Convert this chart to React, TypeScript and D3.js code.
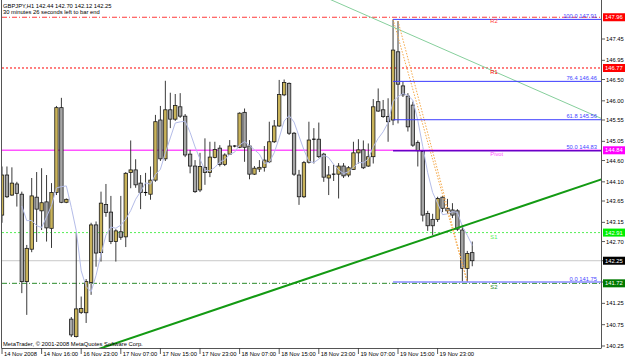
import React from "react";
import * as d3 from "d3";

// ---------- data ----------
const symbolHeader = "GBPJPY,H1  142.44 142.70 142.12 142.25";
const timerText = "30 minutes 26 seconds left to bar end";
const copyright = "MetaTrader, © 2001-2008 MetaQuotes Software Corp.";

const opens = [
  143.32, 144.26, 143.79, 144.05, 143.81, 141.76, 142.52, 143.74, 143.42, 143.63,
  143.01, 143.85, 145.84, 143.62, 140.88, 140.47, 141.04, 141.03, 141.74, 143.09,
  142.44, 143.57, 143.39, 142.70, 142.93, 142.81, 144.32, 144.38, 144.07, 143.85,
  143.81, 144.14, 145.55, 144.64, 145.79, 145.57, 145.86, 145.64, 144.75, 144.47,
  143.91, 144.44, 144.32, 144.67, 144.89, 144.51, 144.75, 144.93, 144.91, 145.73,
  144.94, 144.28, 144.40, 144.44, 144.57, 145.04, 145.41, 146.14, 146.41, 145.24,
  144.26, 143.75, 144.56, 145.09, 145.10, 144.75, 144.19, 144.27, 144.28, 144.47,
  144.26, 144.39, 144.78, 144.85, 144.47, 144.69, 145.98, 145.79, 145.63, 145.55,
  147.15, 146.35, 146.11, 145.90, 145.02, 144.81, 143.36, 143.22, 143.22, 143.74,
  143.48, 143.44, 143.42, 142.97, 142.07, 142.44,
];
const highs = [
  144.46, 144.46, 144.44, 144.10, 143.87, 142.62, 144.19, 144.33, 144.42, 144.26,
  144.07, 145.88, 146.07, 143.71, 140.93, 142.90, 141.41, 141.82, 143.14, 143.17,
  143.87, 144.05, 143.77, 142.99, 143.77, 144.33, 145.07, 144.63, 144.26, 144.31,
  144.46, 145.67, 145.88, 146.47, 146.19, 146.16, 146.18, 145.69, 144.85, 144.61,
  144.78, 145.12, 145.04, 145.04, 144.96, 144.77, 145.08, 144.96, 145.73, 145.82,
  145.08, 144.47, 144.61, 144.94, 145.51, 145.55, 146.49, 146.50, 146.43, 145.27,
  144.38, 144.59, 145.51, 145.36, 145.49, 144.78, 144.47, 144.50, 144.54, 144.54,
  144.47, 145.04, 145.10, 145.07, 145.00, 146.04, 146.29, 146.02, 146.06, 147.91,
  147.87, 146.45, 146.18, 145.98, 145.07, 144.85, 143.42, 143.35, 143.75, 143.77,
  143.70, 143.60, 143.46, 143.09, 142.48, 142.70,
];
const lows = [
  143.14, 143.72, 143.77, 143.52, 141.49, 140.98, 142.45, 142.69, 142.97, 142.70,
  142.55, 143.79, 143.60, 143.60, 140.46, 140.45, 141.00, 140.79, 141.45, 142.11,
  142.23, 143.28, 142.64, 142.23, 142.74, 142.57, 143.95, 143.96, 143.46, 143.77,
  143.68, 144.10, 144.59, 144.59, 145.36, 145.53, 145.60, 144.68, 144.30, 143.84,
  143.86, 144.03, 144.21, 144.65, 144.46, 144.47, 144.73, 144.91, 144.89, 144.57,
  144.16, 144.26, 144.33, 144.34, 144.54, 145.01, 145.39, 146.11, 145.20, 144.24,
  143.56, 143.72, 144.53, 144.53, 144.66, 144.10, 143.79, 144.12, 143.71, 144.19,
  144.21, 144.38, 144.53, 144.40, 144.45, 144.53, 145.74, 145.60, 145.04, 145.43,
  145.47, 146.09, 145.28, 144.92, 144.46, 143.17, 142.95, 142.85, 143.16, 143.39,
  143.35, 143.25, 142.95, 141.76, 141.75, 142.12,
];
const closes = [
  144.26, 143.75, 144.07, 143.83, 141.76, 142.54, 143.77, 143.46, 143.61, 143.02,
  143.85, 145.84, 143.62, 143.69, 140.51, 141.12, 141.13, 141.76, 143.09, 142.43,
  143.60, 143.38, 142.70, 142.95, 142.80, 144.30, 144.38, 144.03, 143.85, 143.83,
  144.14, 145.51, 144.64, 145.79, 145.57, 145.89, 145.64, 144.73, 144.47, 143.87,
  144.46, 144.32, 144.68, 144.86, 144.51, 144.73, 144.94, 144.94, 145.71, 144.91,
  144.28, 144.42, 144.44, 144.61, 145.04, 145.41, 146.15, 146.43, 145.24, 144.28,
  143.75, 144.55, 145.08, 145.10, 144.69, 144.21, 144.26, 144.28, 144.47, 144.24,
  144.43, 144.78, 144.85, 144.43, 144.69, 145.86, 145.76, 145.63, 145.51, 147.19,
  146.39, 146.14, 145.39, 144.96, 144.83, 143.32, 143.07, 143.07, 143.71, 143.48,
  143.42, 143.32, 142.99, 142.07, 142.42, 142.25,
];

const timeTickBars = [0, 8, 16, 24, 32, 40, 48, 56, 64, 72, 80, 88];
const timeTickLabels = [
  "14 Nov 2008", "14 Nov 16:00", "16 Nov 23:00", "17 Nov 07:00", "17 Nov 15:00",
  "17 Nov 23:00", "18 Nov 07:00", "18 Nov 15:00", "18 Nov 23:00", "19 Nov 07:00",
  "19 Nov 15:00", "19 Nov 23:00",
];
const priceTicks = [
  147.45, 146.95, 146.5, 146.0, 145.55, 145.05, 144.6, 144.1, 143.65, 143.15,
  142.7, 142.25, 141.75, 141.25, 140.75, 140.25,
];

const pivotNames = ["R2", "R1", "Pivot", "S1", "S2"];
const pivotPrices = [147.96, 146.77, 144.84, 142.91, 141.72];
const pivotColors = ["#ff3a3a", "#ff0000", "#ff55ff", "#55ee55", "#2a8a2a"];
const pivotBoxColors = ["#ff0000", "#ff0000", "#ff00ff", "#00ee00", "#007a00"];
const pivotDash = ["5 2 1 2", "2 2", "", "2 2", "5 2 1 2"];

const currentPrice = 142.25;

const fibRatios = [1, 0.764, 0.618, 0.5, 0];
const fibLabels = ["100.0", "76.4", "61.8", "50.0", "0.0"];
const fibHigh = 147.91;
const fibLow = 141.75;
const fibStartBar = 79;
const fibEndBar = 94;

// trendlines: [bar, price] anchors
const greenTrend = [[30, 140.59], [90, 142.94]];
const lightTrend = [[74.3, 147.97], [100.6, 146.63]];
const orangeA = [[79, 147.91], [94, 141.75]];
const orangeB = [[80, 147.87], [94, 141.75]];

const maPeriod = 5;

// ---------- layout ----------
const W = 625;
const H = 361;
const plotL = 2;
const plotR = 601;
const plotT = 0;
const plotB = 348;
const FONT = "'Liberation Sans', Arial, sans-serif";
const FS = 5.8;

export default function App() {
  const n = closes.length;
  const x = d3.scaleLinear().domain([0, n - 1]).range([2, 2 + 4.95 * (n - 1)]);
  const y = d3.scaleLinear().domain([140.25, 147.45]).range([346, 39]);

  const bull = "#c9b35a";
  const bear = "#a6a6a6";

  const extLine = (pts: number[][]) => {
    const [a, b] = pts;
    const x1 = x(a[0]), y1 = y(a[1]), x2 = x(b[0]), y2 = y(b[1]);
    const m = (y2 - y1) / (x2 - x1);
    const xa = plotL - 5, xb = plotR + 5;
    return { x1: xa, y1: y1 + m * (xa - x1), x2: xb, y2: y1 + m * (xb - x1) };
  };

  const maPts: [number, number][] = [];
  for (let i = maPeriod - 1; i < n; i++) {
    const m = d3.mean(closes.slice(i - maPeriod + 1, i + 1)) as number;
    maPts.push([x(i), y(m)]);
  }
  const maPath = d3.line().curve(d3.curveLinear)(maPts) || "";

  const g = extLine(greenTrend);
  const lt = extLine(lightTrend);

  return (
    <svg
      width={W}
      height={H}
      viewBox={`0 0 ${W} ${H}`}
      style={{ position: "fixed", left: 0, top: 0, background: "#fff", display: "block" }}
      fontFamily={FONT}
    >
      <defs>
        <clipPath id="plotclip">
          <rect x={plotL} y={plotT} width={plotR - plotL} height={plotB - plotT} />
        </clipPath>
      </defs>
      <rect x={0} y={0} width={W} height={H} fill="#fff" />

      <g clipPath="url(#plotclip)">
        {/* pivot levels */}
        {pivotPrices.map((p, i) => (
          <line
            key={"pv" + i}
            x1={plotL}
            x2={plotR}
            y1={y(p)}
            y2={y(p)}
            stroke={pivotColors[i]}
            strokeWidth={i === 2 ? 1.6 : 1}
            strokeDasharray={pivotDash[i] || undefined}
          />
        ))}
        {/* current price line */}
        <line x1={plotL} x2={plotR} y1={y(currentPrice)} y2={y(currentPrice)} stroke="#c8c8c8" strokeWidth={1} />

        {/* candles */}
        {closes.map((c, i) => {
          const o = opens[i];
          const cx = x(i);
          const up = c >= o;
          const top = y(Math.max(o, c));
          const bot = y(Math.min(o, c));
          const doji = Math.abs(bot - top) < 1;
          return (
            <g key={"c" + i}>
              <line x1={cx} x2={cx} y1={y(highs[i])} y2={y(lows[i])} stroke="#3a3a3a" strokeWidth={1} />
              {doji ? (
                <line x1={cx - 1.8} x2={cx + 1.8} y1={top} y2={top} stroke="#000" strokeWidth={1.1} />
              ) : (
                <rect
                  x={cx - 1.7}
                  y={top}
                  width={3.4}
                  height={bot - top}
                  fill={up ? bull : bear}
                  stroke="#1a1a1a"
                  strokeWidth={0.8}
                />
              )}
            </g>
          );
        })}

        {/* moving average */}
        <path d={maPath} fill="none" stroke="#b4bce8" strokeWidth={1} />

        {/* trend lines */}
        <line {...lt} stroke="#86cf9c" strokeWidth={1} />
        <line {...g} stroke="#139a13" strokeWidth={2} />
        {[orangeA, orangeB].map((pts, k) => (
          <line
            key={"or" + k}
            x1={x(pts[0][0])}
            y1={y(pts[0][1])}
            x2={x(pts[1][0])}
            y2={y(pts[1][1])}
            stroke="#f5a94a"
            strokeWidth={1}
            strokeDasharray="1.5 1.5"
          />
        ))}

        {/* fibonacci */}
        {fibRatios.map((r, i) => {
          const p = fibLow + r * (fibHigh - fibLow);
          const yy = y(p);
          const col = r === 0.5 ? "#6a00c8" : r === 0 ? "#8a8cff" : "#3b3bff";
          return (
            <g key={"fb" + i}>
              <line
                x1={x(fibStartBar)}
                x2={plotR}
                y1={yy}
                y2={yy}
                stroke={col}
                strokeWidth={r === 0.5 || r === 0 ? 1.6 : 1}
              />
              <text x={597} y={yy - 1.3} fontSize={FS} fill="#4646ff" textAnchor="end">
                {fibLabels[i] + "  " + p.toFixed(2)}
              </text>
            </g>
          );
        })}

        {/* pivot labels */}
        {pivotPrices.map((p, i) => (
          <text key={"pl" + i} x={x(fibEndBar) + 23} y={y(p) + 6} fontSize={FS} fill={pivotColors[i]}>
            {pivotNames[i]}
          </text>
        ))}

        {/* header */}
        <text x={3} y={7.5} fontSize={FS} fill="#000">{symbolHeader}</text>
        <text x={3} y={13.5} fontSize={FS} fill="#000">{timerText}</text>
        <text x={3} y={346} fontSize={FS} fill="#000">{copyright}</text>
      </g>

      {/* frame */}
      <line x1={1.5} x2={1.5} y1={0} y2={plotB} stroke="#555" strokeWidth={1} />
      <line x1={plotR + 0.5} x2={plotR + 0.5} y1={0} y2={plotB} stroke="#555" strokeWidth={1} />
      <line x1={1.5} x2={plotR + 0.5} y1={plotB + 0.5} y2={plotB + 0.5} stroke="#555" strokeWidth={1} />

      {/* price axis */}
      {priceTicks.map((p, i) => (
        <g key={"pt" + i}>
          <line x1={plotR + 1} x2={plotR + 4} y1={y(p)} y2={y(p)} stroke="#333" strokeWidth={0.8} />
          <text x={606} y={y(p) + 2} fontSize={FS} fill="#000">{p.toFixed(2)}</text>
        </g>
      ))}
      {pivotPrices.concat([currentPrice]).map((p, i) => {
        const bg = i < pivotPrices.length ? pivotBoxColors[i] : "#000";
        return (
          <g key={"bx" + i}>
            <rect x={603} y={y(p) - 4} width={22} height={8} fill={bg} />
            <text x={605} y={y(p) + 2} fontSize={FS} fill="#fff">{p.toFixed(2)}</text>
          </g>
        );
      })}

      {/* time axis */}
      {timeTickBars.map((b, i) => (
        <g key={"tt" + i}>
          <line x1={x(b)} x2={x(b)} y1={plotB} y2={plotB + 6} stroke="#333" strokeWidth={0.8} />
          <text x={x(b) + 2} y={356} fontSize={FS} fill="#000">{timeTickLabels[i]}</text>
        </g>
      ))}
    </svg>
  );
}
